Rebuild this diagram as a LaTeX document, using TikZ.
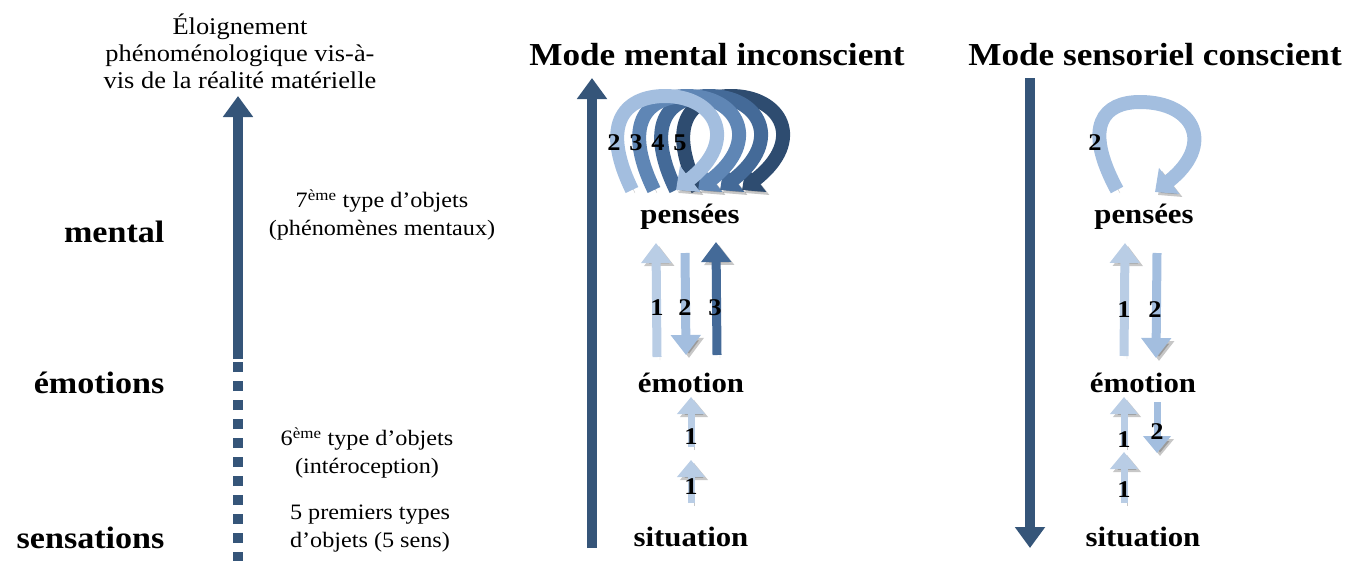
\documentclass[tikz,border=0pt]{standalone}
\usepackage{fontspec}
\setmainfont{Liberation Serif}[FakeStretch=1.1]
\usetikzlibrary{arrows.meta}
\definecolor{navy}{HTML}{355579}
\definecolor{pale}{HTML}{B9CDE5}
\definecolor{soft}{HTML}{A3BEDF}
\definecolor{mid}{HTML}{5F86B5}
\definecolor{deep}{HTML}{446A98}
\definecolor{dark}{HTML}{2E4C70}
\tikzset{
  lvl/.style={font=\fontsize{31}{34}\selectfont\bfseries, anchor=east},
  note/.style={font=\fontsize{22}{28}\selectfont, align=center},
  head/.style={font=\fontsize{32}{36}\selectfont\bfseries},
  stage/.style={font=\fontsize{28}{32}\selectfont\bfseries},
  num/.style={font=\fontsize{24}{26}\selectfont\bfseries},
  shade/.style={preaction={draw=black, opacity=0.22, transform canvas={shift={(3pt,-3pt)}}}},
  bigarr/.style={line width=10pt, navy, -{Triangle[width=29pt,length=21pt]}},
  arr/.style={shade, line width=9pt, -{Triangle[width=29pt,length=20pt]}},
  small/.style={shade, line width=7pt, -{Triangle[width=27pt,length=17pt]}},
  loopy/.style={shade, line width=14pt, -{Triangle[width=32pt,length=18pt]}}
}
\begin{document}
\begin{tikzpicture}[x=1pt,y=-1pt]
\useasboundingbox (0,0) rectangle (1360,560);
% left scale
\node[note, font=\fontsize{24}{27}\selectfont] (far) at (240,51) {Éloignement\\phénoménologique vis-à-\\vis de la réalité matérielle};
\node[lvl] (mental) at (168,232) {mental};
\node[lvl] (emotions) at (168,383) {émotions};
\node[lvl] (sensations) at (168,538) {sensations};
\node[note] (t7) at (382,215) {7\textsuperscript{ème} type d’objets\\(phénomènes mentaux)};
\node[note] (t6) at (367,453) {6\textsuperscript{ème} type d’objets\\(intéroception)};
\node[note] (t5) at (370,529) {5 premiers types\\d’objets (5 sens)};
\coordinate (low) at (238,562);
\coordinate (cut) at (238,359);
\coordinate (top) at (238,96);
\draw[navy, line width=10pt, dash pattern=on 10pt off 9pt] (low) -- (cut);
\draw[bigarr] (cut) -- (top);
% headings
\node[head] (inc) at (717,55) {Mode mental inconscient};
\node[head] (con) at (1155,55) {Mode sensoriel conscient};
\coordinate (incA) at (592,548);
\coordinate (incB) at (592,78);
\coordinate (conA) at (1030,78);
\coordinate (conB) at (1030,548);
\draw[bigarr] (incA) -- (incB);
\draw[bigarr] (conA) -- (conB);
% unconscious mode
\node[stage] (pen1) at (690,217) {pensées};
\node[stage] (emo1) at (691,383) {émotion};
\node[stage] (sit1) at (691,537) {situation};
\foreach \i/\col in {3/dark,2/deep,1/mid,0/soft}{
  \begin{scope}[shift={(pen1.center)}, shift={(22*\i,0)}]
    \draw[loopy, \col] (-58,-27) .. controls (-92,-97) and (-62,-121) .. (-25,-121)
      .. controls (25,-121) and (50,-77) .. (-14,-27);
  \end{scope}
}
\foreach \i/\t in {0/2,1/3,2/4,3/5}
  \node[num] (l\t) at (614+22*\i,143) {\t};
\draw[arr, pale] ([shift={(-34,-26)}]emo1.center) -- ([shift={(-34,26)}]pen1.center);
\draw[arr, soft] ([shift={(-5,36)}]pen1.center) -- ([shift={(-5,-28)}]emo1.center);
\draw[arr, deep] ([shift={(26,-28)}]emo1.center) -- ([shift={(26,25)}]pen1.center);
\node[num] (u1) at (657,308) {1};
\node[num] (u2) at (685,308) {2};
\node[num] (u3) at (715,308) {3};
\draw[small, pale] ([shift={(0,64)}]emo1.center) -- ([shift={(0,14)}]emo1.center);
\draw[small, pale] ([shift={(0,-34)}]sit1.center) -- ([shift={(0,-77)}]sit1.center);
\node[num] (u4) at (691,437) {1};
\node[num] (u5) at (691,487) {1};
% conscious mode
\node[stage] (pen2) at (1144,217) {pensées};
\node[stage] (emo2) at (1143,383) {émotion};
\node[stage] (sit2) at (1143,537) {situation};
\begin{scope}[shift={(pen2.center)}]
  \draw[loopy, soft] (-27,-27) .. controls (-62,-92) and (-40,-115) .. (-4,-115)
    .. controls (51,-115) and (71,-72) .. (11,-25);
\end{scope}
\node[num] (c0) at (1095,143) {2};
\draw[arr, pale] ([shift={(-19,-27)}]emo2.center) -- ([shift={(-19,26)}]pen2.center);
\draw[arr, soft] ([shift={(13,36)}]pen2.center) -- ([shift={(13,-25)}]emo2.center);
\node[num] (c1) at (1124,310) {1};
\node[num] (c2) at (1155,310) {2};
\draw[small, pale] ([shift={(-19,64)}]emo2.center) -- ([shift={(-19,14)}]emo2.center);
\draw[small, soft] ([shift={(14,19)}]emo2.center) -- ([shift={(14,70)}]emo2.center);
\draw[small, pale] ([shift={(-19,-34)}]sit2.center) -- ([shift={(-19,-85)}]sit2.center);
\node[num] (c3) at (1124,440) {1};
\node[num] (c4) at (1157,432) {2};
\node[num] (c5) at (1124,490) {1};
\end{tikzpicture}
\end{document}
